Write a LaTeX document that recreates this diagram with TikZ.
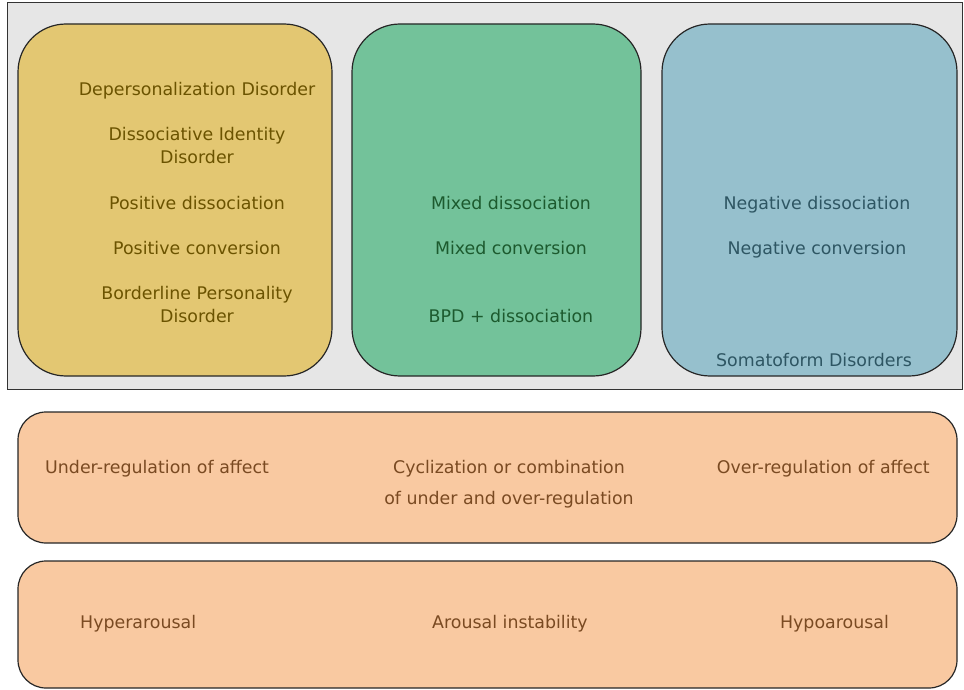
\documentclass[tikz,border=0pt]{standalone}
\usepackage{fontspec}
\setmainfont{DejaVu Sans}
\definecolor{panelgray}{HTML}{E6E6E6}
\definecolor{posfill}{HTML}{E3C772}
\definecolor{mixfill}{HTML}{73C29A}
\definecolor{negfill}{HTML}{96C0CD}
\definecolor{regfill}{HTML}{F9C9A1}
\definecolor{postext}{HTML}{6B5300}
\definecolor{mixtext}{HTML}{1C5A2E}
\definecolor{negtext}{HTML}{2E5663}
\definecolor{regtext}{HTML}{7A4A22}
\tikzset{
  panel/.style={draw=black!80, line width=1pt, fill=panelgray, rectangle, inner sep=0pt},
  colbox/.style={draw=black!85, line width=1.2pt, rectangle, rounded corners=48pt, inner sep=0pt},
  rowbox/.style={draw=black!85, line width=1.2pt, rectangle, rounded corners=28pt, inner sep=0pt, fill=regfill},
  lbl/.style={inner sep=0pt, align=center, font=\fontsize{17.4}{23}\selectfont, anchor=base},
}
\begin{document}
\begin{tikzpicture}[x=1pt, y=-1pt]
\useasboundingbox (0,0) rectangle (964,690);
% grey panel holding the three columns
\node[panel, minimum width=955pt, minimum height=386pt] (panel) at (484.5,196) {};
% three column boxes
\node[colbox, fill=posfill, minimum width=314pt, minimum height=352pt] (pos) at (175,200) {};
\node[colbox, fill=mixfill, minimum width=289pt, minimum height=352pt] (mix) at (496.5,200) {};
\node[colbox, fill=negfill, minimum width=295pt, minimum height=352pt] (neg) at (809.5,200) {};
% two row boxes
\node[rowbox, minimum width=939pt, minimum height=131pt] (reg) at (487.5,477.5) {};
\node[rowbox, minimum width=939pt, minimum height=127pt] (aro) at (487.5,624.5) {};

% positive column (multi-line labels sit on the baseline of their last line)
\node[lbl, text=postext] (p1) at (197,96) {Depersonalization Disorder};
\node[lbl, text=postext] (p2) at (197,164) {Dissociative Identity\\Disorder};
\node[lbl, text=postext] (p3) at (197,209) {Positive dissociation};
\node[lbl, text=postext] (p4) at (197,254) {Positive conversion};
\node[lbl, text=postext] (p5) at (197,322) {Borderline Personality\\Disorder};
% mixed column
\node[lbl, text=mixtext] (m1) at (511,209) {Mixed dissociation};
\node[lbl, text=mixtext] (m2) at (511,254) {Mixed conversion};
\node[lbl, text=mixtext] (m3) at (511,322) {BPD + dissociation};
% negative column
\node[lbl, text=negtext] (n1) at (817,209) {Negative dissociation};
\node[lbl, text=negtext] (n2) at (817,254) {Negative conversion};
\node[lbl, text=negtext] (n3) at (814,366) {Somatoform Disorders};
% affect regulation row
\node[lbl, text=regtext, anchor=base west] (r1) at (45,473) {Under-regulation of affect};
\node[lbl, text=regtext, align=center, font=\fontsize{17.4}{31}\selectfont] (r2) at (509,504) {Cyclization or combination\\of under and over-regulation};
\node[lbl, text=regtext, anchor=base east] (r3) at (930,473) {Over-regulation of affect};
% arousal row
\node[lbl, text=regtext, anchor=base west] (a1) at (80,628) {Hyperarousal};
\node[lbl, text=regtext] (a2) at (510,628) {Arousal instability};
\node[lbl, text=regtext, anchor=base east] (a3) at (889,628) {Hypoarousal};
\end{tikzpicture}
\end{document}
